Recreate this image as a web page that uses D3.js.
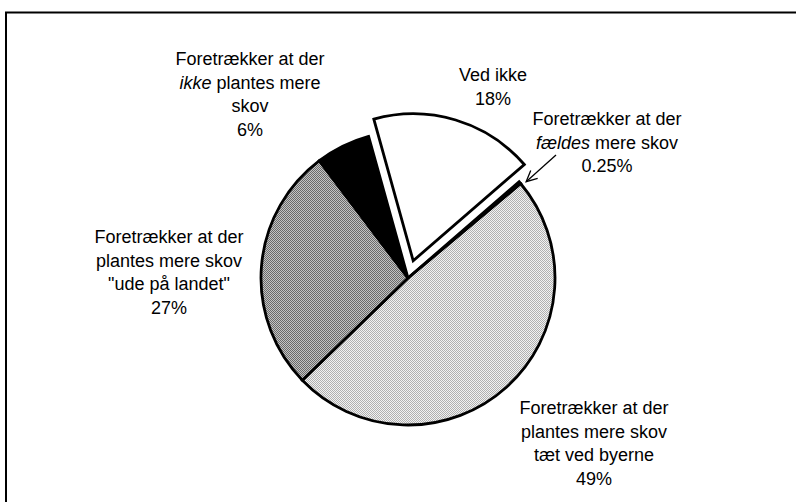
<!DOCTYPE html>
<html>
<head>
<meta charset="utf-8">
<script src="https://cdn.jsdelivr.net/npm/d3@7"></script>
<style>
  html, body { margin: 0; padding: 0; background: #fff; }
  svg { display: block; }
  text { font-family: "Liberation Sans", Arial, Helvetica, sans-serif; font-size: 18px; fill: #000; }
</style>
</head>
<body>
<svg id="chart" width="796" height="502"></svg>
<script>
// ---- data ----
const categories = [
  "Foretrækker at der plantes mere skov tæt ved byerne",
  "Foretrækker at der plantes mere skov \"ude på landet\"",
  "Foretrækker at der ikke plantes mere skov",
  "Ved ikke",
  "Foretrækker at der fældes mere skov"
];
const values = [49, 27, 6, 18, 0.25];
const percentLabels = ["49%", "27%", "6%", "18%", "0.25%"];
// label lines; segments marked with "*" are italic
const labelLines = [
  [["Foretrækker at der"], ["plantes mere skov"], ["tæt ved byerne"], ["49%"]],
  [["Foretrækker at der"], ["plantes mere skov"], ["\"ude på landet\""], ["27%"]],
  [["Foretrækker at der"], ["*ikke", " plantes mere"], ["skov"], ["6%"]],
  [["Ved ikke"], ["18%"]],
  [["Foretrækker at der"], ["*fældes", " mere skov"], ["0.25%"]]
];

// ---- styling / layout ----
const fills = ["url(#lightDither)", "url(#darkDither)", "#000000", "#ffffff", "#000000"];
const exploded = [false, false, false, true, false];
const W = 796, H = 502;
const cx = 408, cy = 278, R = 147, explode = 18;
const startDeg = 50;
const labelPos = [ // [center x, first baseline y]
  [594, 414], [169, 243], [250, 65], [493, 81], [607, 125]
];
const lineH = 23.7;

const svg = d3.select("#chart");

// halftone-like patterns
const defs = svg.append("defs");
function dither(id, a, b) {
  const p = defs.append("pattern").attr("id", id)
    .attr("patternUnits", "userSpaceOnUse").attr("width", 2).attr("height", 2);
  p.append("rect").attr("width", 2).attr("height", 2).attr("fill", a);
  p.append("rect").attr("width", 1).attr("height", 1).attr("fill", b);
  p.append("rect").attr("x", 1).attr("y", 1).attr("width", 1).attr("height", 1).attr("fill", b);
}
dither("lightDither", "#f2f2f2", "#b0b0b0");
dither("darkDither", "#c4c4c4", "#6a6a6a");

// frame
svg.append("path")
  .attr("d", `M6,${H + 5} V12.5 H${W + 5}`)
  .attr("fill", "none").attr("stroke", "#000").attr("stroke-width", 2);

const pie = d3.pie().sort(null).value(d => d)
  .startAngle(startDeg * Math.PI / 180)
  .endAngle((startDeg + 360) * Math.PI / 180);
const arcs = pie(values);
const arc = d3.arc().innerRadius(0).outerRadius(R);

const g = svg.append("g").attr("transform", `translate(${cx},${cy})`);
g.selectAll("path.slice").data(arcs).join("path")
  .attr("class", "slice")
  .attr("d", arc)
  .attr("fill", (d, i) => fills[i])
  .attr("stroke", "#000")
  .attr("stroke-width", 2.8)
  .attr("stroke-linejoin", "miter")
  .attr("transform", (d, i) => {
    if (!exploded[i]) return null;
    const a = (d.startAngle + d.endAngle) / 2;
    return `translate(${explode * Math.sin(a)},${-explode * Math.cos(a)})`;
  });

// labels
labelLines.forEach((lines, i) => {
  const [x, y0] = labelPos[i];
  const t = svg.append("text").attr("text-anchor", "middle");
  lines.forEach((segs, j) => {
    segs.forEach((s, k) => {
      const italic = s.startsWith("*");
      const ts = t.append("tspan").text(italic ? s.slice(1) : s)
        .attr("font-style", italic ? "italic" : null);
      if (k === 0) ts.attr("x", x).attr("y", y0 + j * lineH);
    });
  });
});

// arrow to the tiny slice
const tiny = arcs[4];
const ta = (tiny.startAngle + tiny.endAngle) / 2;
const tip = [cx + (R + 3) * Math.sin(ta) + 4, cy - (R + 3) * Math.cos(ta) + 1];
const tail = [556, 155];
svg.append("line")
  .attr("x1", tail[0]).attr("y1", tail[1]).attr("x2", tip[0]).attr("y2", tip[1])
  .attr("stroke", "#000").attr("stroke-width", 1.3);
const ang = Math.atan2(tip[1] - tail[1], tip[0] - tail[0]);
const hl = 12, hw = 0.45;
svg.append("path")
  .attr("d", `M${tip[0] - hl * Math.cos(ang - hw)},${tip[1] - hl * Math.sin(ang - hw)} L${tip[0]},${tip[1]} L${tip[0] - hl * Math.cos(ang + hw)},${tip[1] - hl * Math.sin(ang + hw)}`)
  .attr("fill", "none").attr("stroke", "#000").attr("stroke-width", 1.3);
</script>
</body>
</html>
